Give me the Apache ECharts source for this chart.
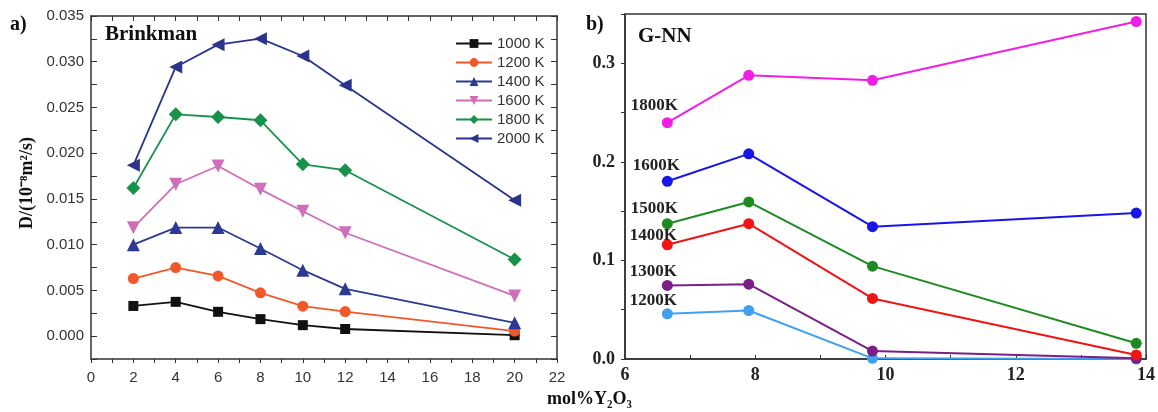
<!DOCTYPE html>
<html>
<head>
<meta charset="utf-8">
<script src="https://cdn.jsdelivr.net/npm/echarts@6/dist/echarts.min.js"></script>
<style>
html, body { margin: 0; padding: 0; background: #fff; }
#main { width: 1158px; height: 412px; }
</style>
</head>
<body>
<div id="main"></div>
<script>
// ---- panel a) Brinkman ----
const molA = [2, 4, 6, 8, 10, 12, 20];
const namesA = ['1000 K', '1200 K', '1400 K', '1600 K', '1800 K', '2000 K'];
const a1000 = [0.0033, 0.00375, 0.00266, 0.00186, 0.0012, 0.00078, 0.0001];
const a1200 = [0.0063, 0.0075, 0.00658, 0.00473, 0.00328, 0.00268, 0.00055];
const a1400 = [0.0100, 0.01187, 0.01187, 0.00958, 0.00721, 0.00517, 0.00146];
const a1600 = [0.01185, 0.0166, 0.0186, 0.01605, 0.01365, 0.0113, 0.0044];
const a1800 = [0.0162, 0.02425, 0.02396, 0.0236, 0.01879, 0.01814, 0.00838];
const a2000 = [0.01868, 0.02943, 0.03187, 0.03252, 0.03063, 0.02742, 0.01486];

// ---- panel b) G-NN ----
const molB = [6.65, 7.9, 9.8, 13.85];
const namesB = ['1800K', '1600K', '1500K', '1400K', '1300K', '1200K'];
const b1800 = [0.2397, 0.2878, 0.2827, 0.3424];
const b1600 = [0.1803, 0.2081, 0.1342, 0.1481];
const b1500 = [0.1373, 0.1593, 0.0942, 0.0159];
const b1400 = [0.1159, 0.1373, 0.0614, 0.0041];
const b1300 = [0.0746, 0.0759, 0.0081, 0.0007];
const b1200 = [0.0458, 0.0492, 0.0007, 0.0];

const serif = '"Liberation Serif", "Times New Roman", serif';
const sans = '"Liberation Sans", Arial, sans-serif';

const pairs = (xs, ys) => xs.map((x, i) => [x, ys[i]]);

const seriesA = [
    { data: a1000, color: '#111111', symbol: 'rect', size: 10, rot: 0 },
    { data: a1200, color: '#f0592a', symbol: 'circle', size: 11, rot: 0 },
    { data: a1400, color: '#2c3a94', symbol: 'triangle', size: 13, rot: 0 },
    { data: a1600, color: '#cf6eb9', symbol: 'triangle', size: 13, rot: 180 },
    { data: a1800, color: '#16924a', symbol: 'diamond', size: 14, rot: 0 },
    { data: a2000, color: '#2b338c', symbol: 'triangle', size: 13, rot: 90 }
].map((s, i) => ({
    name: namesA[i],
    type: 'line',
    xAxisIndex: 0,
    yAxisIndex: 0,
    data: pairs(molA, s.data),
    symbol: s.symbol,
    symbolSize: s.size,
    symbolRotate: s.rot,
    lineStyle: { color: s.color, width: 1.8 },
    itemStyle: { color: s.color },
    emphasis: { disabled: true }
}));

// label offsets for the temperature tags in panel b
const tagOffset = [[-13, -17], [-11, -16], [-13, -15], [-14, -9], [-14, -14], [-14, -13]];
const seriesB = [
    { data: b1800, color: '#f01fe6' },
    { data: b1600, color: '#1616e8' },
    { data: b1500, color: '#1f8a22' },
    { data: b1400, color: '#f01414' },
    { data: b1300, color: '#7a1f86' },
    { data: b1200, color: '#3fa2f0' }
].map((s, i) => ({
    name: namesB[i],
    type: 'line',
    xAxisIndex: 2,
    yAxisIndex: 2,
    data: pairs(molB, s.data),
    symbol: 'circle',
    symbolSize: 11,
    lineStyle: { color: s.color, width: 2 },
    itemStyle: { color: s.color },
    label: {
        show: true,
        position: 'inside',
        offset: tagOffset[i],
        formatter: p => p.dataIndex === 0 ? namesB[i] : '',
        fontFamily: serif,
        fontWeight: 'bold',
        fontSize: 17,
        color: '#222'
    },
    emphasis: { disabled: true }
})).reverse();

const axisLine = { show: true, onZero: false, lineStyle: { color: '#333', width: 1.5 } };

let myChart = echarts.init(document.getElementById('main'));
let option = {
    animation: false,
    grid: [
        { left: 91, top: 16, width: 466, height: 343 },
        { left: 625, top: 14, width: 528, height: 345, show: true, borderColor: '#333', borderWidth: 1.5, backgroundColor: 'transparent' }
    ],
    legend: {
        data: namesA,
        orient: 'vertical',
        left: 450,
        top: 31,
        itemWidth: 36,
        itemHeight: 11,
        itemGap: 4,
        textStyle: { fontFamily: sans, fontSize: 15, color: '#333' }
    },
    xAxis: [
        {
            gridIndex: 0, type: 'value', min: 0, max: 22, interval: 1,
            axisLine: axisLine,
            axisTick: { inside: false, length: 4, lineStyle: { color: '#333' } },
            axisLabel: {
                margin: 11, fontFamily: sans, fontSize: 15, color: '#333',
                formatter: v => v % 2 === 0 ? String(v) : ''
            },
            splitLine: { show: false }
        },
        {
            gridIndex: 0, type: 'value', position: 'top', min: 0, max: 22, interval: 1,
            axisLine: axisLine,
            axisTick: { inside: true, length: 5, lineStyle: { color: '#333' } },
            axisLabel: { show: false },
            splitLine: { show: false }
        },
        {
            gridIndex: 1, type: 'value', min: 6, max: 14, interval: 1,
            axisLine: axisLine,
            axisTick: { inside: true, length: 4, lineStyle: { color: '#333' } },
            axisLabel: {
                margin: 7, fontFamily: serif, fontWeight: 'bold', fontSize: 18, color: '#222',
                formatter: v => v % 2 === 0 ? String(v) : ''
            },
            splitLine: { show: false }
        }
    ],
    yAxis: [
        {
            gridIndex: 0, type: 'value', min: -0.0025, max: 0.035, interval: 0.0025,
            axisLine: axisLine,
            axisTick: { inside: true, length: 6, lineStyle: { color: '#333' } },
            axisLabel: {
                margin: 7, fontFamily: sans, fontSize: 15, color: '#333',
                formatter: v => (v > -1e-9 && Math.round(v / 0.0025) % 2 === 0) ? v.toFixed(3) : ''
            },
            splitLine: { show: false }
        },
        {
            gridIndex: 0, type: 'value', position: 'right', min: -0.0025, max: 0.035, interval: 0.0025,
            axisLine: axisLine,
            axisTick: { inside: true, length: 6, lineStyle: { color: '#333' } },
            axisLabel: { show: false },
            splitLine: { show: false }
        },
        {
            gridIndex: 1, type: 'value', min: 0, max: 0.35, interval: 0.05,
            axisLine: axisLine,
            axisTick: { inside: false, length: 4, lineStyle: { color: '#333' } },
            axisLabel: {
                margin: 10, fontFamily: serif, fontWeight: 'bold', fontSize: 18, color: '#222',
                formatter: v => Math.round(v * 100) % 10 === 0 ? v.toFixed(1) : ''
            },
            splitLine: { show: false }
        }
    ],
    graphic: [
        { type: 'text', x: 10, y: 25, style: { text: 'a)', font: 'bold 20px ' + serif, fill: '#111', verticalAlign: 'middle' } },
        { type: 'text', x: 105, y: 35, style: { text: 'Brinkman', font: 'bold 21px ' + serif, fill: '#111', verticalAlign: 'middle' } },
        { type: 'text', x: 586, y: 25, style: { text: 'b)', font: 'bold 20px ' + serif, fill: '#111', verticalAlign: 'middle' } },
        { type: 'text', x: 638, y: 37, style: { text: 'G-NN', font: 'bold 21px ' + serif, fill: '#111', verticalAlign: 'middle' } },
        { type: 'text', x: 547, y: 399, style: { text: 'mol%Y₂O₃', font: 'bold 18px ' + serif, fill: '#111', verticalAlign: 'middle' } },
        {
            type: 'text', x: 27, y: 183, rotation: Math.PI / 2,
            style: { text: 'D/(10⁻⁸m²/s)', font: 'bold 18px ' + serif, fill: '#111', align: 'center', verticalAlign: 'middle' }
        }
    ],
    series: seriesA.concat(seriesB)
};
myChart.setOption(option);
</script>
</body>
</html>
